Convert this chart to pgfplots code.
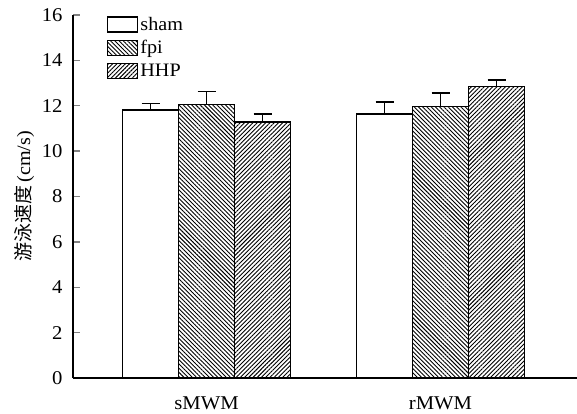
\documentclass[border=0pt]{standalone}
\usepackage{fontspec}
\setmainfont{Liberation Serif}[FakeStretch=1.06]
\newfontfamily\cjk{Noto Sans CJK SC}
\usepackage{pgfplots}
\pgfplotsset{compat=1.18}
\usetikzlibrary{patterns.meta}
\begin{document}
\begin{tikzpicture}
\useasboundingbox (-73pt,-36pt) rectangle (504pt,378pt);
\begin{axis}[
  at={(0,0)}, anchor=south west,
  scale only axis, width=504pt, height=363pt,
  xmin=-0.5705, xmax=1.5833,
  ymin=0, ymax=16,
  ytick={0,2,...,16},
  xtick={0,1}, xticklabels={sMWM,rMWM},
  axis x line*=bottom, axis y line*=left,
  axis line style={line width=1.6pt},
  tick align=inside,
  major tick length=7pt,
  major x tick style={draw=none},
  major y tick style={line width=1.4pt},
  /pgf/number format/assume math mode=true,
  tick label style={font=\fontsize{19.5}{22}\selectfont},
  yticklabel style={xshift=-7pt},
  xticklabel style={yshift=-8pt},
  ylabel={{\cjk 游泳速度}\,(cm/s)},
  ylabel style={font=\fontsize{19}{22}\selectfont, at={(axis description cs:-0.097,0.5)}, anchor=center},
  ybar=0pt, bar width=56pt,
  every axis plot/.append style={line width=1.3pt, draw=black},
  error bars/y dir=plus, error bars/y explicit,
  error bars/error bar style={line width=1.3pt, black},
  error bars/error mark options={line width=1.3pt, black, mark size=9pt, rotate=90},
  legend style={at={(axis description cs:0.0675,1.0)}, anchor=north west, draw=none, fill=none,
    font=\fontsize{19}{22}\selectfont, inner sep=0pt, row sep=4.5pt,
    cells={anchor=west}},
  legend image code/.code={\draw[#1, line width=1.2pt] (0pt,-7.5pt) rectangle (30pt,7.5pt);},
  legend cell align=left,
]
\addplot[fill=white] coordinates {(0,11.81) +- (0,0.30) (1,11.63) +- (0,0.53)};
\addplot[pattern={Lines[angle=-45,distance=3pt,line width=0.9pt]}] coordinates {(0,12.07) +- (0,0.57) (1,11.98) +- (0,0.58)};
\addplot[pattern={Lines[angle=45,distance=3pt,line width=0.9pt]}] coordinates {(0,11.28) +- (0,0.35) (1,12.86) +- (0,0.27)};
\legend{sham,fpi,HHP}
\end{axis}
\end{tikzpicture}
\end{document}
